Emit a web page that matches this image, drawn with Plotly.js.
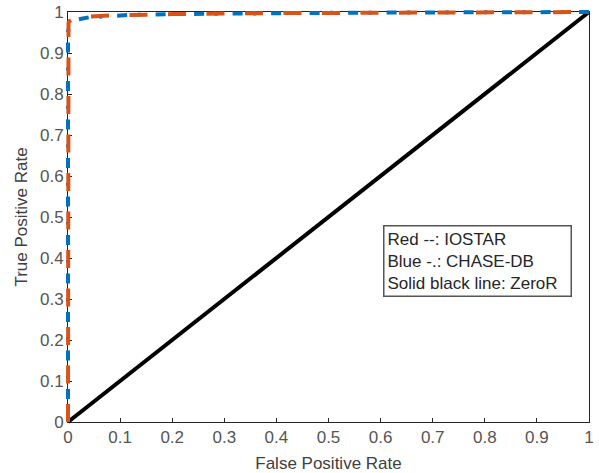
<!DOCTYPE html>
<html>
<head>
<meta charset="utf-8">
<script src="https://cdn.plot.ly/plotly-3.0.1.min.js"></script>
<style>html,body{margin:0;padding:0;background:#fff;}#chart{width:599px;height:473px;}</style>
</head>
<body>
<div id="chart"></div>
<script>
const iostarFpr = [0, 0, 0.001, 0.003, 0.006, 0.01, 0.02, 0.04, 0.07, 0.12, 0.2, 0.35, 0.5, 0.7, 0.85, 1];
const iostarTpr = [0, 0.965, 0.974, 0.978, 0.981, 0.983, 0.986, 0.989, 0.991, 0.993, 0.995, 0.997, 0.998, 0.999, 0.9995, 1];
const chaseFpr = [0, 0, 0.002, 0.005, 0.01, 0.02, 0.04, 0.07, 0.12, 0.2, 0.35, 0.5, 0.7, 0.85, 1];
const chaseTpr = [0, 0.952, 0.962, 0.97, 0.976, 0.982, 0.987, 0.99, 0.993, 0.995, 0.997, 0.998, 0.999, 0.9995, 1];
const zeroRFpr = [0, 1];
const zeroRTpr = [0, 1];
const tickVals = [0, 0.1, 0.2, 0.3, 0.4, 0.5, 0.6, 0.7, 0.8, 0.9, 1];
const tickText = ["0", "0.1", "0.2", "0.3", "0.4", "0.5", "0.6", "0.7", "0.8", "0.9", "1"];
const legendLines = ["Red --: IOSTAR", "Blue -.: CHASE-DB", "Solid black line: ZeroR"];

const FONT = 'Liberation Sans, Arial, sans-serif';

// Geometry: outer plotting region and inner axes box (pixels)
const W = 599, H = 473;
const M = {l: 58, r: 0, t: 2, b: 41};
const box = {x0: 68, x1: 589, y0: 12, y1: 422};
const pw = W - M.l - M.r, ph = H - M.t - M.b;
const xDom = [(box.x0 - M.l) / pw, (box.x1 - M.l) / pw];
const yDom = [(M.t + ph - box.y1) / ph, (M.t + ph - box.y0) / ph];
const bw = box.x1 - box.x0, bh = box.y1 - box.y0;
const x2Range = [-(box.x0 - M.l) / bw, 1 + (W - M.r - box.x1) / bw];
const y2Range = [-(M.t + ph - box.y1) / bh, 1 + (box.y0 - M.t) / bh];

const traces = [
  {x: [], y: [], type: 'scatter', mode: 'lines', xaxis: 'x', yaxis: 'y', hoverinfo: 'skip'},
  {x: zeroRFpr, y: zeroRTpr, mode: 'lines', line: {color: '#000000', width: 4}, name: 'ZeroR', xaxis: 'x2', yaxis: 'y2'},
  {x: chaseFpr, y: chaseTpr, mode: 'lines', line: {color: '#0072BD', width: 4, dash: '0px,5px,3px,15px,10px,5.5px'}, name: 'CHASE-DB', xaxis: 'x2', yaxis: 'y2'},
  {x: iostarFpr, y: iostarTpr, mode: 'lines', line: {color: '#D95319', width: 4, dash: '18px,20.5px'}, name: 'IOSTAR', xaxis: 'x2', yaxis: 'y2'}
];

const axisCommon = {
  range: [0, 1],
  tickvals: tickVals,
  ticktext: tickText,
  ticks: 'inside',
  ticklen: 4,
  tickcolor: '#262626',
  showgrid: false,
  zeroline: false,
  showline: true,
  mirror: true,
  linecolor: '#262626',
  linewidth: 1,
  tickfont: {family: FONT, size: 17, color: '#555555'},
  fixedrange: true
};

const hiddenAxis = {visible: false, showgrid: false, zeroline: false, fixedrange: true, domain: [0, 1]};

const layout = {
  width: W, height: H,
  margin: M,
  paper_bgcolor: '#ffffff', plot_bgcolor: 'rgba(0,0,0,0)',
  showlegend: false,
  xaxis: Object.assign({}, axisCommon, {
    domain: xDom, anchor: 'y',
    title: {text: 'False Positive Rate', font: {family: FONT, size: 17, color: '#404040'}, standoff: 10}
  }),
  yaxis: Object.assign({}, axisCommon, {
    domain: yDom, anchor: 'x',
    title: {text: 'True Positive Rate', font: {family: FONT, size: 17, color: '#404040'}, standoff: 8}
  }),
  xaxis2: Object.assign({}, hiddenAxis, {range: x2Range, anchor: 'y2'}),
  yaxis2: Object.assign({}, hiddenAxis, {range: y2Range, anchor: 'x2'}),
  annotations: [{
    xref: 'paper', yref: 'paper',
    x: (383 - M.l) / pw, y: (M.t + ph - 225) / ph,
    xanchor: 'left', yanchor: 'top',
    text: legendLines.join('<br>'), align: 'left', showarrow: false,
    font: {family: FONT, size: 17, color: '#262626'},
    bordercolor: '#555555', borderwidth: 1.5, borderpad: 3, bgcolor: '#ffffff',
    width: 180
  }]
};

Plotly.newPlot('chart', traces, layout, {displayModeBar: false, staticPlot: true});
</script>
</body>
</html>
